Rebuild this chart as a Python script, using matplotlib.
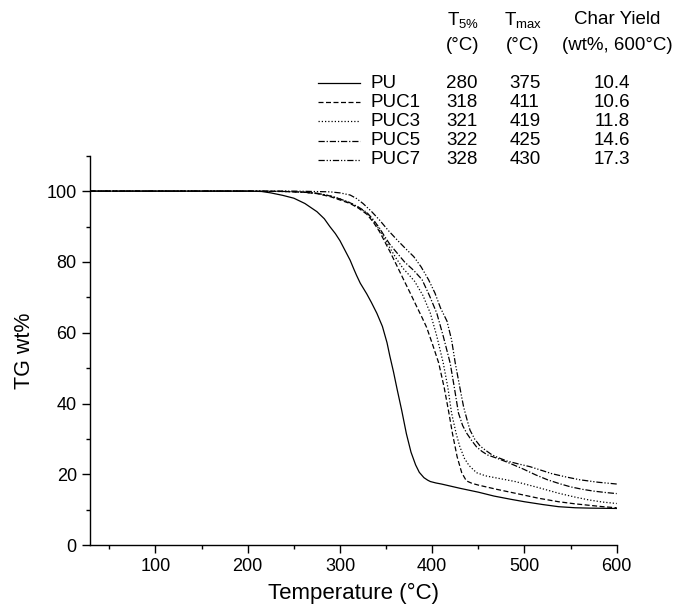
import matplotlib
matplotlib.use('Agg')
import matplotlib.pyplot as plt
from matplotlib.lines import Line2D

plt.rcParams['font.family'] = ['Liberation Sans', 'DejaVu Sans']
plt.rcParams['mathtext.default'] = 'regular'

## TGA curves: temperature (C) and weight (%)
t_pu = [29, 150, 200, 215, 225, 238, 250, 262, 275, 283, 289, 295, 300, 305, 311, 315, 318,
        322, 329, 334, 340, 346, 351, 354, 358, 362, 367, 372, 377, 382, 386, 391, 395, 398,
        404, 410, 420, 430, 450, 467, 485, 500, 520, 537, 555, 570, 585, 600]
w_pu = [100, 100, 100, 99.9, 99.5, 98.8, 98, 96.5, 94.2, 92.2, 90, 88, 86, 83.5, 80.5, 78,
        76.2, 74, 71, 68.6, 65.5, 61.8, 57.2, 53.5, 49, 44, 38, 31.5, 26.3, 22.7, 20.6, 19.1,
        18.4, 18, 17.6, 17.3, 16.7, 16.1, 15, 13.9, 13, 12.3, 11.5, 10.9, 10.6, 10.5, 10.45,
        10.4]

t_puc1 = [29, 200, 240, 260, 275, 290, 300, 311, 320, 329, 336, 343, 348, 354, 361, 369, 376,
          383, 389, 394, 400, 407, 413, 418, 422, 427, 432, 437, 443, 450, 470, 490, 515, 537,
          555, 570, 585, 600]
w_puc1 = [100, 100, 99.9, 99.7, 99.3, 98.4, 97.5, 96.5, 95.2, 93.5, 91.3, 88.5, 86, 83, 79.3,
          75, 71.3, 67.5, 64.3, 61.5, 57, 51.5, 44.5, 37.5, 31.5, 25, 20.5, 18.2, 17.5, 17,
          15.8, 14.7, 13.3, 12.3, 11.7, 11.3, 10.9, 10.6]

t_puc3 = [29, 200, 240, 260, 275, 290, 300, 311, 320, 329, 336, 343, 348, 354, 361, 368, 375,
          381, 390, 398, 405, 412, 417, 421, 426, 430, 435, 440, 448, 458, 470, 490, 515, 537,
          555, 570, 585, 600]
w_puc3 = [100, 100, 99.9, 99.7, 99.4, 98.6, 97.8, 96.7, 95.4, 93.8, 91.6, 89, 86.8, 84, 81,
          78.3, 76.3, 74.5, 70.5, 65.5, 59, 51.4, 44.5, 37.3, 31.5, 27.8, 24.5, 22.5, 20.5,
          19.6, 19, 18, 16.3, 14.7, 13.6, 12.8, 12.2, 11.8]

t_puc5 = [29, 200, 240, 260, 275, 290, 300, 311, 320, 329, 336, 343, 348, 354, 362, 370, 380,
          389, 397, 405, 412, 419.5, 424, 428.5, 433, 437.5, 443, 448, 454, 460, 470, 481, 490,
          499, 512, 525, 538, 550, 563, 575, 588, 600]
w_puc5 = [100, 100, 99.9, 99.7, 99.4, 98.6, 97.8, 96.7, 95.5, 94, 92, 89.5, 87.4, 85, 82.5,
          80, 77.6, 75, 70.5, 65.5, 59, 51.4, 44.5, 37.3, 33.8, 31.6, 29.5, 27.8, 26.5, 25.5,
          24.6, 23.5, 22.5, 21.5, 19.9, 18.5, 17.4, 16.5, 15.8, 15.3, 14.9, 14.6]

t_puc7 = [29, 200, 250, 270, 289, 300, 311, 318, 325, 334, 343, 352, 362, 371, 380, 388, 396,
          403, 409, 416, 421, 425, 430, 434, 438, 441, 446, 452, 458, 465, 473, 481, 493, 506,
          518, 530, 545, 560, 580, 600]
w_puc7 = [100, 100, 100, 99.9, 99.8, 99.5, 98.9, 97.9, 96.5, 94.3, 91.8, 89, 86.2, 83.8, 81.5,
          78.6, 75, 71.2, 67, 63.3, 58, 51.4, 44.5, 39.1, 35.2, 32.5, 30, 28, 26.8, 25.5, 24.6,
          23.8, 23, 22.2, 21.2, 20.2, 19.3, 18.5, 17.8, 17.3]

names = ['PU', 'PUC1', 'PUC3', 'PUC5', 'PUC7']
t5 = ['280', '318', '321', '322', '328']
tmax = ['375', '411', '419', '425', '430']
char_yield = ['10.4', '10.6', '11.8', '14.6', '17.3']

styles = ['-', (0, (4, 2)), (0, (1, 1.6)), (0, (5, 1.5, 1, 1.5)), (0, (5, 1.5, 1, 1.5, 1, 1.5))]
curves = [(t_pu, w_pu), (t_puc1, w_puc1), (t_puc3, w_puc3), (t_puc5, w_puc5), (t_puc7, w_puc7)]

W, H = 674, 608
fig = plt.figure(figsize=(W / 100, H / 100), dpi=100)
ax = fig.add_axes([90 / W, 1 - 545.3 / H, (616.7 - 90) / W, (545.3 - 155.7) / H])

for (t, w), ls in zip(curves, styles):
    ax.plot(t, w, color='black', lw=0.9, linestyle=ls)

ax.set_xlim(29, 600)
ax.set_ylim(0, 110)
ax.set_xticks([100, 200, 300, 400, 500, 600])
ax.set_xticks([50, 150, 250, 350, 450, 550], minor=True)
ax.set_yticks([0, 20, 40, 60, 80, 100])
ax.set_yticks([10, 30, 50, 70, 90, 110], minor=True)
ax.spines['top'].set_visible(False)
ax.spines['right'].set_visible(False)
for s in ['left', 'bottom']:
    ax.spines[s].set_linewidth(1.0)
ax.tick_params(which='major', direction='out', length=6, width=1.0, labelsize=13)
ax.tick_params(which='minor', direction='out', length=3, width=1.0)
ax.set_xlabel('Temperature (°C)', fontsize=16, labelpad=5)
ax.set_ylabel('TG wt%', fontsize=15.5, labelpad=8)

## table-like legend above the axes
def fx(x):
    return x / W

def fy(y):
    return 1 - y / H

fs = 13.5
fig.text(fx(463), fy(20), 'T$_{5\\%}$', ha='center', va='center', fontsize=fs)
fig.text(fx(463), fy(46), '(°C)', ha='center', va='center', fontsize=fs)
fig.text(fx(523), fy(20), 'T$_{max}$', ha='center', va='center', fontsize=fs)
fig.text(fx(523), fy(46), '(°C)', ha='center', va='center', fontsize=fs)
fig.text(fx(617), fy(20), 'Char Yield', ha='center', va='center', fontsize=fs)
fig.text(fx(617), fy(46), '(wt%, 600°C)', ha='center', va='center', fontsize=fs)

for i in range(len(names)):
    y = 83 + 19.2 * i
    fig.add_artist(Line2D([fx(318), fx(360)], [fy(y), fy(y)], transform=fig.transFigure,
                          color='black', lw=0.9, linestyle=styles[i]))
    fig.text(fx(371), fy(y), names[i], ha='left', va='center', fontsize=fs)
    fig.text(fx(462), fy(y), t5[i], ha='center', va='center', fontsize=fs)
    fig.text(fx(525), fy(y), tmax[i], ha='center', va='center', fontsize=fs)
    fig.text(fx(612), fy(y), char_yield[i], ha='center', va='center', fontsize=fs)

fig.savefig('out.png', dpi=100)
